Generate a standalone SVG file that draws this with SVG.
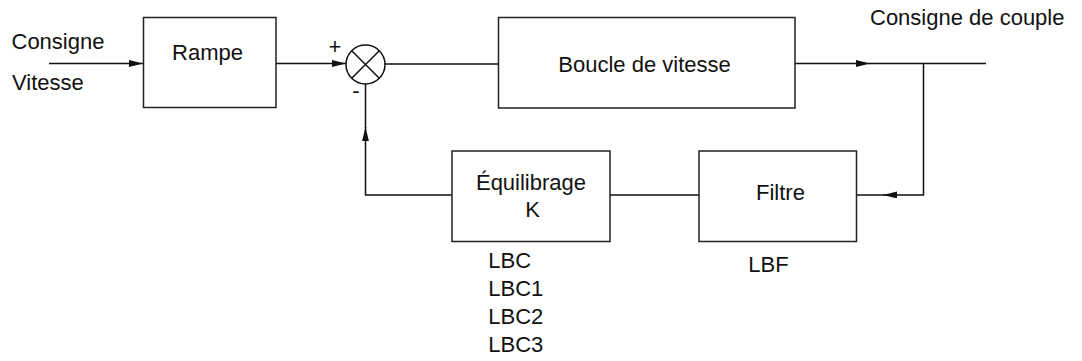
<svg xmlns="http://www.w3.org/2000/svg" width="1082" height="361" viewBox="0 0 1082 361">
<style>
.box{fill:#fff;stroke:#222;stroke-width:1.5}
.ln{fill:none;stroke:#111;stroke-width:1.5}
.t{font-family:"Liberation Sans",Arial,sans-serif;font-size:22px;fill:#111}
.m{text-anchor:middle}
</style>
<defs>
<marker id="ah" markerUnits="userSpaceOnUse" markerWidth="16" markerHeight="10" refX="14" refY="3.4" orient="auto">
<path d="M0,0 L14,3.4 L0,6.8 z" fill="#111"/>
</marker>
</defs>
<rect width="1082" height="361" fill="#fff"/>
<g id="connectors">
<line class="ln" x1="49" y1="63.5" x2="143" y2="63.5" marker-end="url(#ah)"/>
<line class="ln" x1="276" y1="63.5" x2="346" y2="63.5" marker-end="url(#ah)"/>
<line class="ln" x1="385" y1="64" x2="498" y2="64"/>
<line class="ln" x1="795" y1="63.5" x2="870" y2="63.5" marker-end="url(#ah)"/>
<line class="ln" x1="869" y1="63.5" x2="986" y2="63.5"/>
<polyline class="ln" points="923.5,63.5 923.5,195 883,195" marker-end="url(#ah)"/>
<line class="ln" x1="884" y1="195" x2="857" y2="195"/>
<line class="ln" x1="699" y1="195" x2="610" y2="195"/>
<polyline class="ln" points="452,195 365.5,195 365.5,127" marker-end="url(#ah)"/>
<line class="ln" x1="365.5" y1="128" x2="365.5" y2="84"/>
</g>
<g id="input-label">
<text class="t" x="11.5" y="49">Consigne</text>
<text class="t" x="12" y="90">Vitesse</text>
</g>
<g id="rampe">
<rect class="box" x="143.5" y="17.5" width="132.5" height="90"/>
<text class="t m" x="207.5" y="60">Rampe</text>
</g>
<g id="sum">
<circle class="ln" cx="365.5" cy="64.5" r="19.5" fill="#fff"/>
<line class="ln" x1="351.7" y1="50.7" x2="379.3" y2="78.3"/>
<line class="ln" x1="379.3" y1="50.7" x2="351.7" y2="78.3"/>
<text class="t m" x="335" y="53.5">+</text>
<text class="t m" x="356" y="97.5">-</text>
</g>
<g id="boucle">
<rect class="box" x="498.5" y="17.5" width="296.5" height="90.5"/>
<text class="t m" x="644.5" y="71.5">Boucle de vitesse</text>
</g>
<g id="output-label">
<text class="t" x="870" y="25">Consigne de couple</text>
</g>
<g id="equilibrage">
<rect class="box" x="452" y="151" width="158" height="90.5"/>
<text class="t m" x="531" y="189.5">Équilibrage</text>
<text class="t m" x="532.5" y="216.5">K</text>
<text class="t" x="488.3" y="267.7">LBC</text>
<text class="t" x="488.3" y="295.7">LBC1</text>
<text class="t" x="488.3" y="324">LBC2</text>
<text class="t" x="488.3" y="351.7">LBC3</text>
</g>
<g id="filtre">
<rect class="box" x="699" y="151" width="157.5" height="90.5"/>
<text class="t m" x="780.5" y="200">Filtre</text>
<text class="t" x="748.3" y="272.3">LBF</text>
</g>
</svg>
